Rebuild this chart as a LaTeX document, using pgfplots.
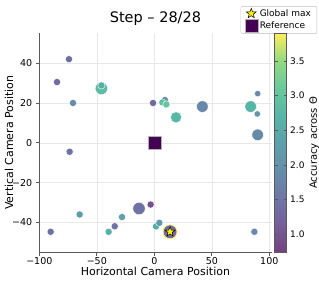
\documentclass[border=0pt]{standalone}
\usepackage{pgfplots}
\pgfplotsset{compat=1.18}
\usepackage{pgfplotstable}
\usepackage{fontspec}
\setmainfont{DejaVu Sans}

\definecolor{refpurple}{RGB}{68,1,84}
\definecolor{axgray}{RGB}{90,90,90}

\pgfdeclareplotmark{fstar}{%
  \pgfpathmoveto{\pgfpointpolar{90}{\pgfplotmarksize}}%
  \pgfpathlineto{\pgfpointpolar{126}{0.42\pgfplotmarksize}}%
  \pgfpathlineto{\pgfpointpolar{162}{\pgfplotmarksize}}%
  \pgfpathlineto{\pgfpointpolar{198}{0.42\pgfplotmarksize}}%
  \pgfpathlineto{\pgfpointpolar{234}{\pgfplotmarksize}}%
  \pgfpathlineto{\pgfpointpolar{270}{0.42\pgfplotmarksize}}%
  \pgfpathlineto{\pgfpointpolar{306}{\pgfplotmarksize}}%
  \pgfpathlineto{\pgfpointpolar{342}{0.42\pgfplotmarksize}}%
  \pgfpathlineto{\pgfpointpolar{18}{\pgfplotmarksize}}%
  \pgfpathlineto{\pgfpointpolar{54}{0.42\pgfplotmarksize}}%
  \pgfpathclose
  \pgfusepathqfillstroke
}

\pgfplotstableread{
x y c s
-74.2 42 1.35 3.6
-84.6 30.5 1.3 3.6
-70.7 20 1.9 3.6
-46 27.3 2.85 6.2
-46 28.8 2.55 3.6
-1.1 20 1.3 3.6
9.3 21.6 1.9 3.4
7 20.3 2.9 3.6
10.5 19.3 3.0 3.6
18.9 12.8 2.75 5.6
41.8 18.2 1.8 5.8
83.8 18.2 2.7 5.8
89.9 24.7 1.85 3.2
89.6 14.5 2.0 3.2
89.9 4 1.85 5.8
-73.6 -4.5 1.4 3.6
-64.9 -36 2.2 3.6
-90.1 -44.7 1.4 3.6
-39.7 -44.7 2.6 3.6
-34.4 -41.9 1.45 3.6
-28.1 -37.3 2.3 3.6
-13.3 -33 1.45 6.2
-3.2 -31 0.95 3.6
1.5 -42 2.5 3.6
4.4 -40.2 2.2 3.6
13.7 -44.7 1.3 7
87 -44.7 1.85 3.6
}\pts

\begin{document}
\begin{tikzpicture}
\begin{axis}[
  name=ax,
  scale only axis, width=232.3pt, height=219pt,
  xmin=-100, xmax=102, ymin=-55, ymax=55,
  axis x line*=bottom, axis y line*=left,
  axis line style={axgray, -, line width=0.7pt},
  xtick={-100,-50,0,50,100}, xticklabels={−100,−50,0,50,100},
  ytick={-40,-20,0,20,40}, yticklabels={−40,−20,0,20,40},
  tick align=outside, major tick length=3.5pt,
  tick style={axgray, line width=0.7pt},
  grid=major, grid style={gray!18, line width=0.5pt},
  ticklabel style={font=\fontsize{9.5}{11}\selectfont},
  xticklabel style={yshift=2pt},
  xlabel={Horizontal Camera Position}, ylabel={Vertical Camera Position},
  xlabel style={font=\fontsize{11}{13}\selectfont, yshift=4pt},
  ylabel style={font=\fontsize{11}{13}\selectfont, yshift=-8pt},
  title={Step – 28/28}, title style={font=\fontsize{14.5}{17}\selectfont, yshift=-2pt},
  colormap={fviridis}{rgb255=(115,65,127) rgb255=(118,94,154) rgb255=(110,119,167) rgb255=(101,142,170) rgb255=(92,161,170) rgb255=(87,182,167) rgb255=(104,201,155) rgb255=(146,218,130) rgb255=(254,237,92)},
  point meta min=0.74, point meta max=3.9,
  colorbar,
  colorbar style={
    at={(parent axis.north east)}, anchor=north west, xshift=-5.5pt,
    width=12pt,
    ytick={1,1.5,2,2.5,3,3.5},
    yticklabels={1.0,1.5,2.0,2.5,3.0,3.5},
    yticklabel style={font=\fontsize{9}{11}\selectfont},
    ylabel={Accuracy across Θ},
    ylabel style={font=\fontsize{10}{12}\selectfont, yshift=2pt},
    axis line style={axgray},
    tick style={axgray, line width=0.6pt},
    major tick length=3pt,
  },
  legend style={at={(1.196,1.124)}, anchor=north east,
    font=\fontsize{9}{10.5}\selectfont, draw=gray!50, rounded corners=2pt,
    inner xsep=4pt, inner ysep=1pt, row sep=0pt,
    /tikz/every even column/.append style={column sep=4pt}},
  legend cell align=left,
]
\addplot[scatter, only marks, mark=*, scatter src=explicit,
  scatter/use mapped color={draw=white, fill=mapped color},
  visualization depends on={\thisrow{s} \as \perpointmarksize},
  scatter/@pre marker code/.append style={/tikz/mark size=\perpointmarksize},
  mark options={line width=0.4pt}, forget plot]
  table[x=x, y=y, meta=c] {\pts};
\addplot[only marks, mark=o, mark size=7pt, mark options={draw=yellow!70!white, line width=0.6pt}, forget plot] coordinates {(13.7,-44.7)};
\addplot[only marks, mark=fstar, mark size=5.2pt, mark options={fill=yellow, draw=black, line width=0.5pt},
  legend image code/.code={\draw[mark repeat=2,mark phase=2] plot coordinates {(0pt,0pt) (12pt,0pt) (24pt,0pt)};}] coordinates {(13.7,-44.7)};
\addlegendentry{Global max}
\addplot[only marks, mark=square*, mark size=6.5pt, mark options={fill=refpurple, draw=gray!60, line width=0.5pt},
  legend image code/.code={\draw[mark repeat=2,mark phase=2] plot coordinates {(0pt,0pt) (12pt,0pt) (24pt,0pt)};}] coordinates {(0,0)};
\addlegendentry{Reference}
\end{axis}
\pgfresetboundingbox
\path[use as bounding box] ([xshift=-39.3pt,yshift=-31.7pt]ax.south west) rectangle ([xshift=47.4pt,yshift=33.3pt]ax.north east);
\end{tikzpicture}
\end{document}
